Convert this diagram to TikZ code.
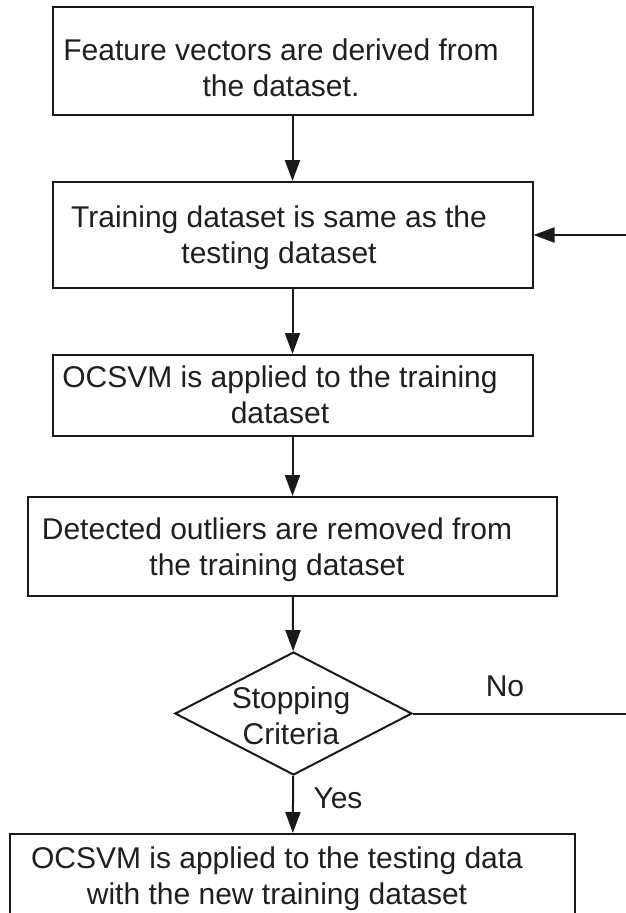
\documentclass[tikz,border=0pt]{standalone}
\usepackage{fontspec}
\setmainfont{Liberation Sans}
\usetikzlibrary{shapes.geometric,arrows.meta}
\begin{document}
\begin{tikzpicture}[x=1pt,y=-1pt,
  every node/.style={font=\fontsize{30}{36}\selectfont, text=black!88},
  box/.style={draw=black!90, line width=2pt, rectangle, inner sep=0pt},
  txt/.style={align=center, inner sep=0pt},
  flow/.style={draw=black!90, line width=2pt, -{Triangle[length=21pt,width=15pt]}}]
\useasboundingbox (0,0) rectangle (625,913);
% boxes
\node[box, minimum width=480pt, minimum height=108pt] (b1) at (292.5,61) {};
\node[txt] (t1) at (281,68) {Feature vectors are derived from\\the dataset.};
\node[box, minimum width=480pt, minimum height=106pt] (b2) at (292.5,235) {};
\node[txt] (t2) at (279,238) {Training dataset is same as the\\testing dataset};
\node[box, minimum width=480pt, minimum height=81pt] (b3) at (292.5,395.5) {};
\node[txt] (t3) at (280,395) {OCSVM is applied to the training\\dataset};
\node[box, minimum width=529pt, minimum height=99pt] (b4) at (292.5,546.5) {};
\node[txt] (t4) at (277,550) {Detected outliers are removed from\\the training dataset};
\node[draw=black!90, diamond, line width=2pt, minimum width=237pt, minimum height=123pt, inner sep=0pt] (d) at (293.5,713.5) {};
\node[txt] (dt) at (291,716) {Stopping\\Criteria};
\node[box, minimum width=565pt, minimum height=117pt, anchor=north] (b5) at (292.5,833) {};
\node[txt] (t5) at (277,879) {OCSVM is applied to the testing data\\with the new training dataset};
\coordinate (far) at (634,713.5);
\node (no) at (505,686) {No};
\node (yes) at (338,798) {Yes};
% connectors
\draw[flow] (b1) -- (b2);
\draw[flow] (b2) -- (b3);
\draw[flow] (b3) -- (b4);
\draw[flow] (b4) -- (d);
\draw[flow] (d) -- (b5);
\draw[flow] (d.east) -- (far) |- (b2.east);
\end{tikzpicture}
\end{document}
